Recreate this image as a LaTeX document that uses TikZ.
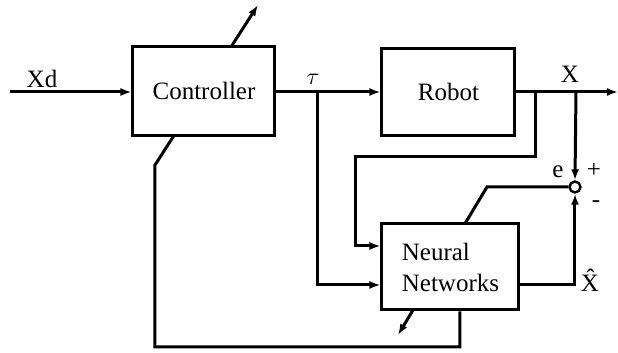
\documentclass[tikz,border=0pt]{standalone}
\usepackage{fontspec}
\setmainfont{Liberation Serif}
\usepackage{tikz}
\usetikzlibrary{calc,arrows.meta,backgrounds}

\begin{document}
\begin{tikzpicture}[x=0.5pt,y=-0.5pt,font=\fontsize{12.5}{15.5}\selectfont,
  >={Latex[length=5.5pt,width=4pt]},
  wire/.style={line width=1.5pt},
  blk/.style={draw,fill=white,line width=1.5pt,inner sep=2pt,align=left},
  sumpt/.style={draw,circle,fill=white,inner sep=0pt,minimum size=5.5pt,line width=1.2pt},
  adapt/.style={->,line width=1.5pt},
  lbl/.style={inner sep=1pt}]
  \useasboundingbox (0,0) rectangle (618,353);
  % blocks
  \node[blk,minimum width=71pt,minimum height=44.5pt] (ctrl)  at (204,91) {Controller};
  \node[blk,minimum width=66.5pt,minimum height=43.5pt] (robot) at (448.5,92) {Robot};
  \node[blk,minimum width=68.5pt,minimum height=43pt] (nn)    at (450.5,267) {Neural\\Networks};
  \node[sumpt] (sum) at (575,187) {};
  % points
  \coordinate (xd)    at (10,92);
  \coordinate (tau)   at (318,92);
  \coordinate (xb1)   at (536,92);
  \coordinate (xb2)   at (576,92);
  \coordinate (out)   at (618,92);
  \coordinate (nnin1) at ($(nn.west)+(0,-21)$);
  \coordinate (nnin2) at ($(nn.west)+(0,18)$);
  \coordinate (nnout) at ($(nn.east)+(0,18)$);
  \coordinate (fb)    at ($(nn.south)+(9.5,0)$);
  % signals
  \draw[wire,->] (xd) -- (ctrl.west |- xd);
  \draw[wire] (ctrl.east |- tau) -- (tau);
  \draw[wire,->] (tau) -- (robot.west |- tau);
  \draw[wire,->] (tau) |- (nnin2);
  \draw[wire,->] (robot.east |- out) -- (out);
  \draw[wire,->] (xb1) |- (356,157) |- (nnin1);
  \draw[wire,->] (xb2) -- (sum.north);
  \draw[wire,->] (nnout) -| (sum.south);
  % adaptation paths
  \begin{scope}[on background layer]
    \draw[adapt] (sum.west) -- (487,187) -- (398,335);
    \draw[adapt] (fb) |- (155,347) -- (155,165) -- (258,5);
  \end{scope}
  % labels
  \node[lbl] (lxd)   at (42,79)  {Xd};
  \node[lbl] (ltau)  at (313,79) {$\tau$};
  \node[lbl] (lx)    at (570,74) {X};
  \node[lbl] (le)    at (558,172) {e};
  \node[lbl] (lplus) at (594,170) {+};
  \node[lbl] (lmin)  at (596,204) {-};
  \node[lbl] (lxh)   at (590,280) {\^{X}};
\end{tikzpicture}
\end{document}
